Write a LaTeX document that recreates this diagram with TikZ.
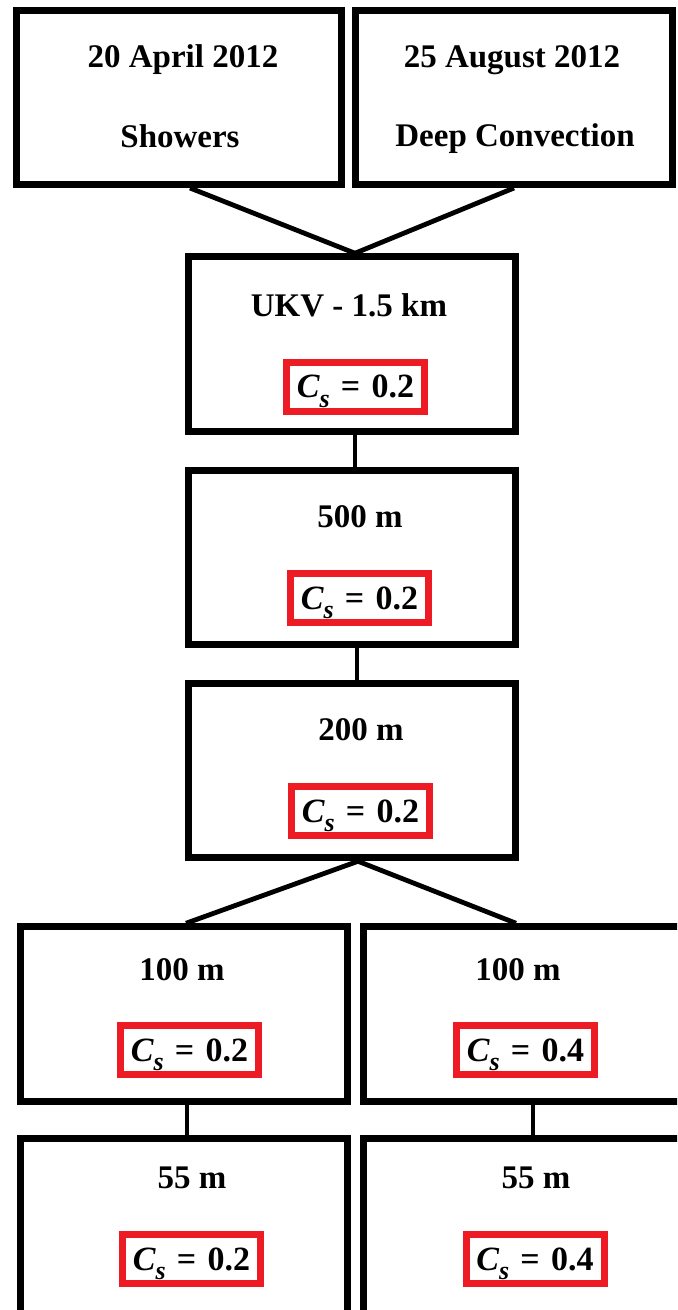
\documentclass[tikz,border=0pt]{standalone}
\usepackage{fontspec}
\setmainfont{Liberation Serif}
\usetikzlibrary{calc}
\definecolor{wordred}{RGB}{237,28,36}
\newcommand{\csval}[1]{{\itshape C\raisebox{-0.28em}{\fontsize{13}{14}\selectfont s}}\,\,=\,\,#1}
\tikzset{
  box/.style={draw=black, line width=3.5pt, minimum width=163.5pt, minimum height=87.25pt, inner sep=0pt},
  redbox/.style={draw=wordred, line width=3.5pt, minimum width=69pt, minimum height=24.5pt, inner sep=0pt,
     text height=11.2pt, text depth=0pt,
     font=\fontsize{17}{19}\selectfont\bfseries},
  lbl/.style={inner sep=0pt, font=\fontsize{16.5}{19}\selectfont\bfseries},
  link/.style={line width=2.4pt, black}
}
\begin{document}
\begin{tikzpicture}[x=0.5pt, y=-0.5pt]
\useasboundingbox (0,0) rectangle (677,1310);
\clip (0,0) rectangle (677,1310);
\fill[white] (0,0) rectangle (677,1310);
% boxes
\node[box, minimum width=162.5pt, minimum height=87pt] (tl) at (179,97.5) {};
\node[box, minimum width=158.5pt, minimum height=87pt] (tr) at (514,97.5) {};
\node[box] (ukv) at (352,344) {};
\node[box] (b500) at (352,557.5) {};
\node[box] (b200) at (352,770.5) {};
\node[box] (l100) at (184,1014) {};
\node[box] (r100) at (527,1014) {};
\node[box] (l55) at (184,1226) {};
\node[box] (r55) at (527,1226) {};
% texts
\node[lbl] (t1) at (183,60) {20 April 2012};
\node[lbl] (t2) at (180,136) {Showers};
\node[lbl] (t3) at (512,60) {25 August 2012};
\node[lbl] (t4) at (515,139) {Deep Convection};
\node[lbl] (t5) at (349,305) {UKV - 1.5 km};
\node[redbox] (c1) at (355.5,386.5) {\csval{0.2}};
\node[lbl] (t6) at (360,517) {500 m};
\node[redbox] (c2) at (359.5,598) {\csval{0.2}};
\node[lbl] (t7) at (361,730) {200 m};
\node[redbox] (c3) at (360.5,811) {\csval{0.2}};
\node[lbl] (t8) at (182,970) {100 m};
\node[redbox] (c4) at (189.5,1050) {\csval{0.2}};
\node[lbl] (t9) at (518,970) {100 m};
\node[redbox] (c5) at (525.5,1050) {\csval{0.4}};
\node[lbl] (t10) at (192,1178) {55 m};
\node[redbox] (c6) at (191.5,1259) {\csval{0.2}};
\node[lbl] (t11) at (536,1178) {55 m};
\node[redbox] (c7) at (535,1259) {\csval{0.4}};
% connectors
\coordinate (join) at ($(ukv.north)+(3,0)$);
\draw[link] ($(tl.south)+(11,0)$) -- (join);
\draw[link] (tr.south) -- (join);
\draw[link] ($(ukv.south)+(3,0)$) -- ($(b500.north)+(3,0)$);
\draw[link] ($(b500.south)+(5,0)$) -- ($(b200.north)+(5,0)$);
\coordinate (split) at ($(b200.south)+(6,0)$);
\draw[link] (split) -- ($(l100.north)+(2,0)$);
\draw[link] (split) -- ($(r100.north)+(-11,0)$);
\draw[link] ($(l100.south)+(3,0)$) -- ($(l55.north)+(3,0)$);
\draw[link] ($(r100.south)+(6,0)$) -- ($(r55.north)+(6,0)$);
\end{tikzpicture}
\end{document}
